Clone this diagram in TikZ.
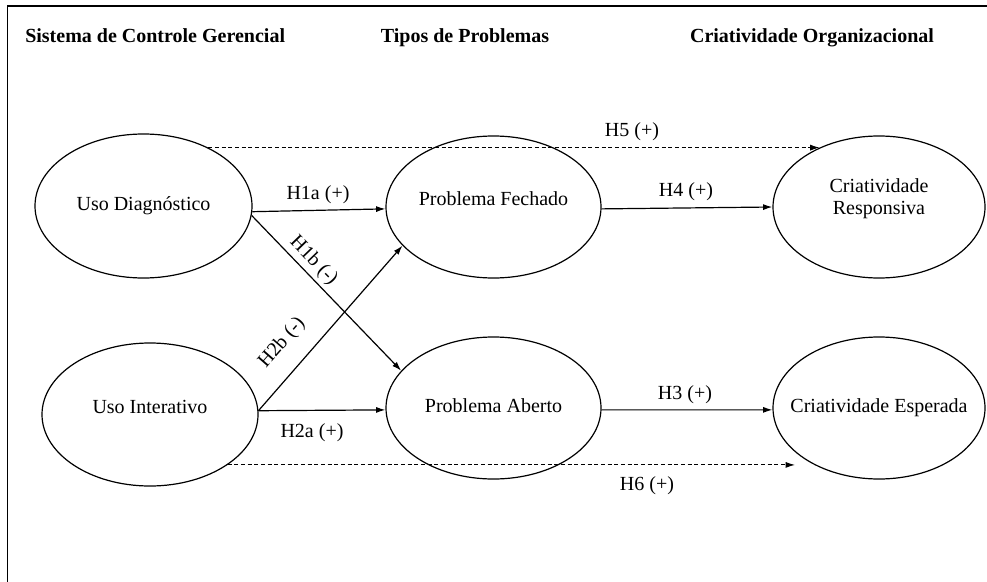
\documentclass[tikz,border=0pt]{standalone}
\usepackage{fontspec}
\setmainfont{Liberation Serif}
\usetikzlibrary{shapes.geometric,arrows.meta}
\begin{document}
\begin{tikzpicture}[x=0.75pt,y=-0.75pt,
  every node/.style={font=\fontsize{15}{16.5}\selectfont},
  oval/.style={ellipse,draw,line width=0.9pt,inner sep=0pt},
  lbl/.style={inner sep=0pt},
  hdr/.style={inner sep=0pt,anchor=base,font=\fontsize{15}{16.5}\selectfont\bfseries},
  arr/.style={line width=0.9pt,-{Latex[length=7pt,width=4.5pt]}},
  darr/.style={line width=0.75pt,dash pattern=on 3pt off 2pt,-{Latex[length=7pt,width=4.5pt]}}
]
\useasboundingbox (0,0) rectangle (987,581);
\clip (0,0) rectangle (987,581);
% frame
\draw[line width=1.1pt] (7.5,620) -- (7.5,6) -- (1000,6);
% headers
\node[hdr,anchor=base west] (h1) at (25,43) {Sistema de Controle Gerencial};
\node[hdr] (h2) at (465,43) {Tipos de Problemas};
\node[hdr] (h3) at (812,43) {Criatividade Organizacional};
% ellipses
\node[oval,minimum width=162.75pt,minimum height=108pt,
  label={[lbl,yshift=0.5pt]center:Uso Diagnóstico}] (ud) at (143.5,206) {};
\node[oval,minimum width=162pt,minimum height=107.25pt,
  label={[lbl,yshift=6pt]center:Uso Interativo}] (ui) at (150,414.5) {};
\node[oval,minimum width=161.25pt,minimum height=106.5pt,
  label={[lbl,yshift=6.5pt]center:Problema Fechado}] (pf) at (493.5,207) {};
\node[oval,minimum width=161.25pt,minimum height=106.5pt,
  label={[lbl,yshift=2pt]center:Problema Aberto}] (pa) at (493.5,408) {};
\node[oval,minimum width=159pt,minimum height=106.5pt,
  label={[lbl,align=center,yshift=6pt]center:Criatividade\\Responsiva}] (cr) at (879,207) {};
\node[oval,minimum width=159pt,minimum height=106.5pt,
  label={[lbl,yshift=0.5pt]center:Criatividade Esperada}] (ce) at (879,408) {};
% free end of H6
\coordinate (h6end) at (795,466);
% connectors
\draw[arr] (ud.-3) -- (pf.181);
\draw[arr] (ud.-5) -- (pa.158);
\draw[arr] (ui.2) -- (pf.203);
\draw[arr] (ui.2) -- (pa.181);
\draw[arr] (pf.-1) -- (cr.180);
\draw[arr] (pa.-1) -- (ce.181);
\draw[darr] (ud.42) -- (ud.42 -| cr.135);
\draw[darr] (ui.-33) -- (ui.-33 -| h6end);
% labels
\node[lbl] (l1a) at (318,195) {H1a (+)};
\node[lbl,rotate=-46] (l1b) at (313.5,261) {H1b (-)};
\node[lbl,rotate=49] (l2b) at (282,343) {H2b (-)};
\node[lbl] (l2a) at (312,433) {H2a (+)};
\node[lbl] (l4) at (686,192) {H4 (+)};
\node[lbl] (l5) at (632,132) {H5 (+)};
\node[lbl] (l3) at (685,395) {H3 (+)};
\node[lbl] (l6) at (647,486) {H6 (+)};
\end{tikzpicture}
\end{document}
